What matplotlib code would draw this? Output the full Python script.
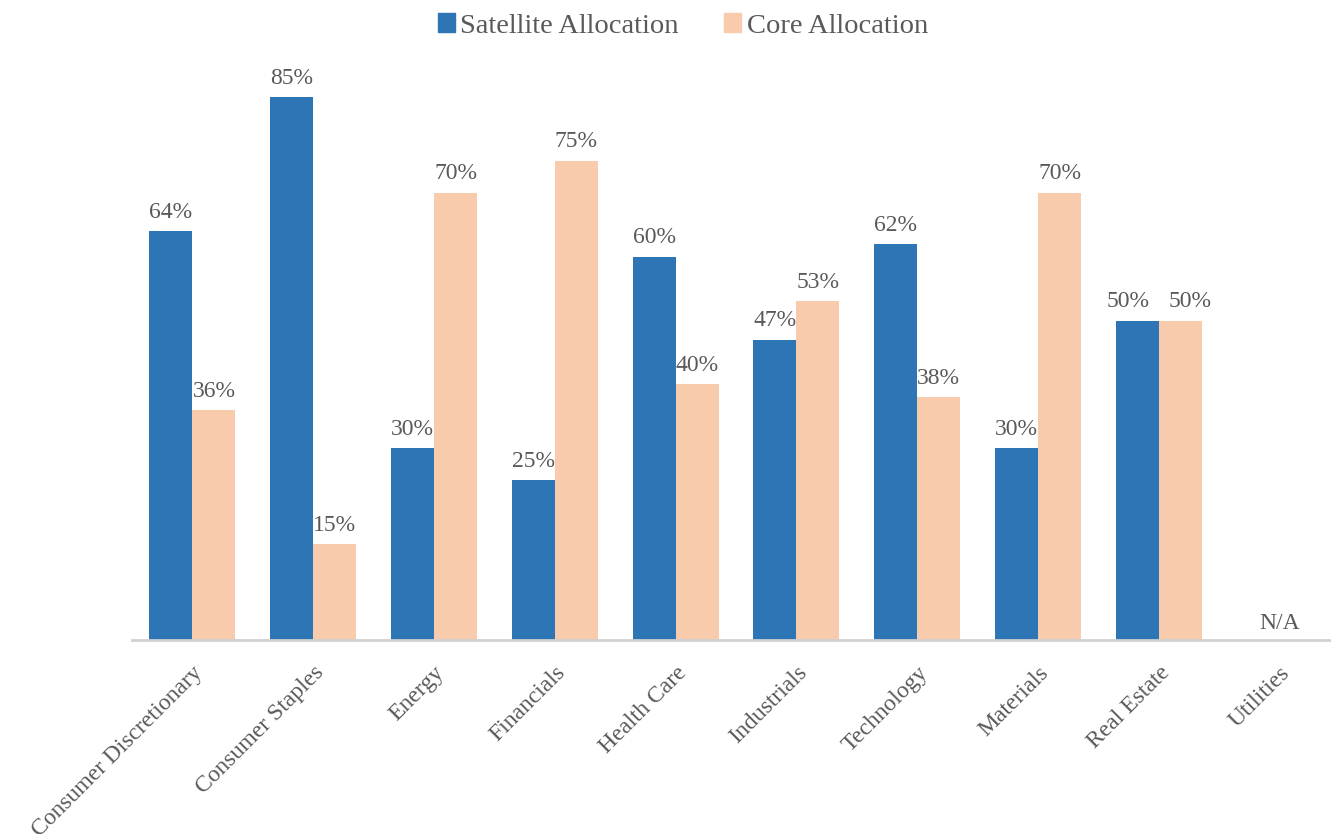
import numpy as np
import matplotlib.pyplot as plt
from matplotlib.patches import Patch

plt.rcParams['font.family'] = ['Liberation Serif', 'DejaVu Serif']

sectors = ["Consumer Discretionary", "Consumer Staples", "Energy", "Financials",
           "Health Care", "Industrials", "Technology", "Materials",
           "Real Estate", "Utilities"]
satellite = [64, 85, 30, 25, 60, 47, 62, 30, 50, np.nan]
core = [36, 15, 70, 75, 40, 53, 38, 70, 50, np.nan]

blue = "#2E75B6"
peach = "#F8CBAD"
textc = "#595959"

fig = plt.figure(figsize=(13.31, 8.34), dpi=100)
# axes extends a bit past the right edge, like the original
ax = fig.add_axes([132 / 1331, (834 - 640) / 834, 1208 / 1331, 575 / 834])

x = np.arange(len(sectors))
w = 0.356
sat = np.array(satellite, dtype=float)
cor = np.array(core, dtype=float)
ax.bar(x - w / 2, np.nan_to_num(sat), w, color=blue)
ax.bar(x + w / 2, np.nan_to_num(cor), w, color=peach)

for i in range(len(sectors)):
    if np.isnan(sat[i]):
        ax.text(x[i], 0.9, "N/A", ha="center", va="bottom", fontsize=17, color=textc)
        continue
    # push labels apart when both bars are the same height
    dx = 7 if abs(sat[i] - cor[i]) < 3 else 0
    ax.annotate("%d%%" % sat[i], (x[i] - w / 2, sat[i]), xytext=(-dx, 6),
                textcoords="offset points", ha="center", va="bottom",
                fontsize=17, color=textc)
    ax.annotate("%d%%" % cor[i], (x[i] + w / 2, cor[i]), xytext=(dx, 6),
                textcoords="offset points", ha="center", va="bottom",
                fontsize=17, color=textc)

ax.set_xlim(-0.5, len(sectors) - 0.5)
ax.set_ylim(0, 90)
ax.set_xticks(x)
ax.set_xticklabels(sectors, rotation=45, ha="right", rotation_mode="anchor",
                   fontsize=17, color=textc)
ax.tick_params(axis="x", length=0, pad=16)
ax.set_yticks([])
for s in ["top", "right", "left"]:
    ax.spines[s].set_visible(False)
ax.spines["bottom"].set_color("#D0D0D0")
ax.spines["bottom"].set_linewidth(2)

handles = [Patch(color=blue, label="Satellite Allocation"),
           Patch(color=peach, label="Core Allocation")]
fig.legend(handles=handles, loc="center", bbox_to_anchor=(683 / 1331, 1 - 26 / 834),
           ncol=2, frameon=False, fontsize=20.5, labelcolor=textc,
           handlelength=0.6, handleheight=0.6, handletextpad=0.2, columnspacing=1.6)

fig.savefig("out.png", dpi=100)
